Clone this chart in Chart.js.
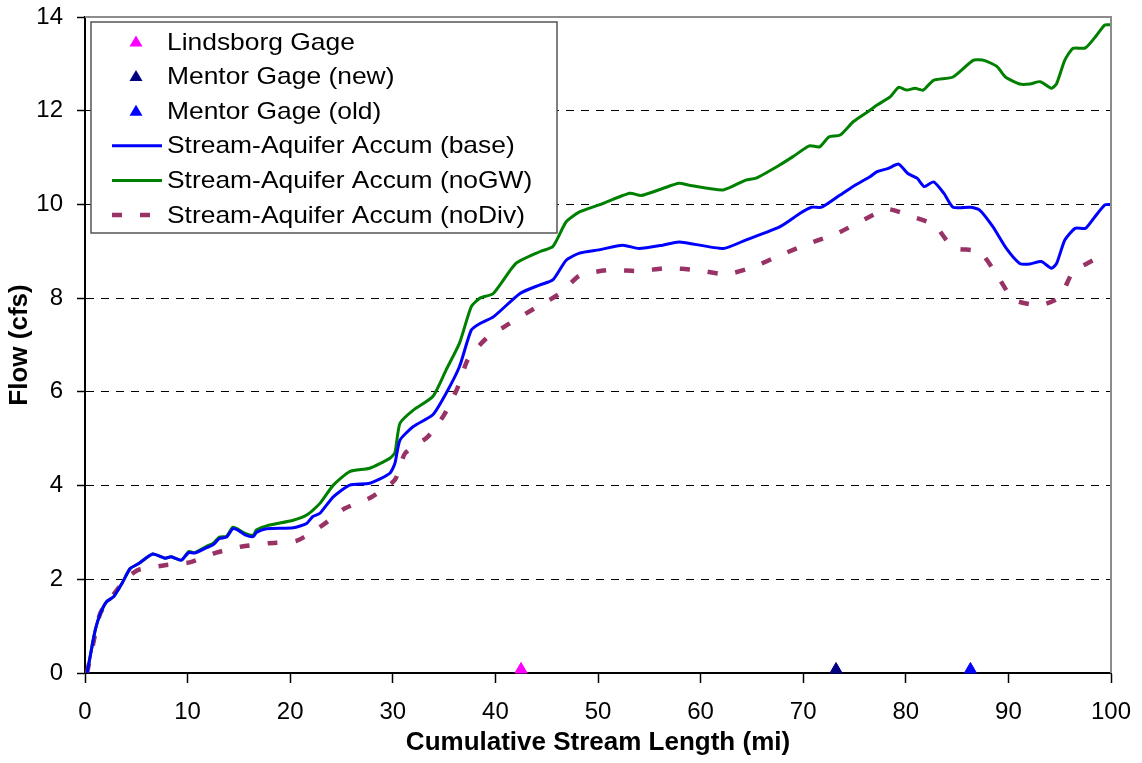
<!DOCTYPE html>
<html>
<head>
<meta charset="utf-8">
<script src="https://cdn.jsdelivr.net/npm/chart.js@4/dist/chart.umd.min.js"></script>
<style>
html,body{margin:0;padding:0;background:#fff;}
canvas{display:block;}
</style>
</head>
<body>
<canvas id="c" width="1142" height="763"></canvas>
<script>
// ---- data ----
const seriesLabels = ["Lindsborg Gage","Mentor Gage (new)","Mentor Gage (old)",
  "Stream-Aquifer Accum (base)","Stream-Aquifer Accum (noGW)","Stream-Aquifer Accum (noDiv)"];
const xTitle = "Cumulative Stream Length (mi)";
const yTitle = "Flow (cfs)";

const lindsborgX = [42.5];
const mentorNewX = [73.2];
const mentorOldX = [86.3];
const gageY = [0.075];

const baseX = [0.2,0.5,1,1.5,2.1,2.8,3.6,4.4,5.2,6.6,7.8,8.4,9.4,10.1,10.7,11.9,12.5,13.1,13.8,14.4,14.9,15.6,16.4,16.7,17.7,20.3,21.6,22.2,22.9,24.2,25.8,27.75,29.7,30.2,30.7,32,33.9,35.2,36.5,37.65,38.5,39.8,42.4,44.3,45.6,46.9,48.2,50.1,52.4,54,56.3,57.9,62.2,64.4,67.7,69.7,70.8,71.8,73.6,74.9,76.5,77.2,78.3,79.3,80.2,81.1,81.8,82.7,83.7,84.6,86.3,87.2,88.5,89.8,91.1,92.1,93.2,94.2,94.7,95.5,96.5,97.5,98.3,99.4,100];
const baseY = [0,0.35,0.92,1.27,1.52,1.63,1.91,2.23,2.33,2.54,2.45,2.48,2.41,2.57,2.56,2.68,2.74,2.87,2.9,3.08,3.05,2.95,2.91,3.0,3.08,3.1,3.19,3.34,3.41,3.76,4.01,4.05,4.26,4.47,4.97,5.26,5.51,5.97,6.54,7.32,7.46,7.6,8.1,8.28,8.39,8.81,8.96,9.03,9.13,9.06,9.13,9.2,9.06,9.24,9.52,9.81,9.94,9.94,10.2,10.39,10.59,10.7,10.77,10.86,10.66,10.56,10.38,10.48,10.24,9.94,9.94,9.88,9.52,9.06,8.74,8.73,8.78,8.64,8.74,9.24,9.49,9.49,9.7,9.99,10.0];

const noGWX = [0.2,0.5,1,1.5,2.1,2.8,3.6,4.4,5.2,6.6,7.8,8.4,9.4,10.1,10.7,11.9,12.5,13.1,13.8,14.4,14.9,15.6,16.4,16.7,17.7,20.3,21.6,22.9,24.2,25.8,27.75,29.7,30.2,30.7,32,33.9,35.2,36.5,37.65,38.5,39.8,42,44.3,45.6,46.9,48.2,50.1,53.1,54.2,56.3,57.9,58.9,62.2,64.4,65.4,67.7,69,70.6,71.6,72.5,73.6,74.9,76.5,77.2,78.5,79.3,80.1,80.9,81.7,82.7,84.6,86.6,87.7,88.9,89.7,91.1,92.1,93.1,94.2,94.7,95.5,96.3,97.5,98.6,99.4,100];
const noGWY = [0,0.35,0.92,1.27,1.52,1.63,1.91,2.23,2.33,2.54,2.45,2.48,2.41,2.59,2.57,2.71,2.77,2.9,2.92,3.11,3.07,2.98,2.94,3.05,3.14,3.26,3.37,3.62,4.01,4.3,4.37,4.58,4.7,5.33,5.61,5.9,6.47,7.04,7.82,8.0,8.1,8.74,8.99,9.1,9.63,9.84,9.99,10.24,10.19,10.34,10.45,10.41,10.31,10.52,10.56,10.84,11.02,11.25,11.23,11.44,11.48,11.77,12.01,12.12,12.3,12.5,12.44,12.48,12.44,12.65,12.72,13.08,13.07,12.94,12.72,12.57,12.57,12.62,12.48,12.58,13.08,13.33,13.34,13.61,13.83,13.83];

const noDivX = [0.2,0.8,1.5,3.1,4.2,5.2,7.8,10.2,12.8,15.3,17.9,20.6,23.2,25.3,27.9,30.2,31.2,33.4,35,36.3,37.3,39.1,41.4,43.8,46.3,48.2,51.1,54,56.8,59.6,62.5,65.2,67.8,70.6,73.2,75.7,78.2,80.6,82.8,84.6,87.2,88.9,90.5,93.1,95,96.3,98.6,99.4];
const noDivY = [0,0.63,1.28,1.77,2.05,2.2,2.3,2.36,2.57,2.7,2.77,2.82,3.16,3.51,3.75,4.12,4.69,5.04,5.51,6.08,6.68,7.14,7.46,7.78,8.1,8.48,8.6,8.58,8.64,8.6,8.51,8.67,8.92,9.17,9.37,9.65,9.9,9.74,9.56,9.08,8.99,8.49,7.97,7.85,8.02,8.56,8.85,9.0];

const xMin = 0, xMax = 100, xStep = 10;
const yMin = 0, yMax = 14, yStep = 2;

// ---- build ----
const pts = (xs, ys) => xs.map((x, i) => ({x: x, y: ys[i]}));
const FONT = "'Liberation Sans', Arial, sans-serif";
const colors = ['#FF00FF','#000080','#0000FF','#0000FF','#008000','#993366'];

const datasets = [
  {label: seriesLabels[3], data: pts(baseX, baseY), borderColor: colors[3], borderWidth: 3, pointRadius: 0, tension: 0.2, fill: false},
  {label: seriesLabels[4], data: pts(noGWX, noGWY), borderColor: colors[4], borderWidth: 3, pointRadius: 0, tension: 0.2, fill: false},
  {label: seriesLabels[5], data: pts(noDivX, noDivY), borderColor: colors[5], borderWidth: 4.5, borderDash: [10, 18], borderCapStyle: 'butt', pointRadius: 0, tension: 0.2, fill: false},
  {label: seriesLabels[0], data: pts(lindsborgX, gageY), showLine: false, pointStyle: 'triangle', pointRadius: 7, backgroundColor: colors[0], borderColor: colors[0], borderWidth: 1, clip: false},
  {label: seriesLabels[1], data: pts(mentorNewX, gageY), showLine: false, pointStyle: 'triangle', pointRadius: 7, backgroundColor: colors[1], borderColor: colors[1], borderWidth: 1, clip: false},
  {label: seriesLabels[2], data: pts(mentorOldX, gageY), showLine: false, pointStyle: 'triangle', pointRadius: 7, backgroundColor: colors[2], borderColor: colors[2], borderWidth: 1, clip: false}
];

const framePlugin = {
  id: 'frame',
  afterDatasetsDraw(chart) {
    const {ctx, chartArea: a} = chart;
    ctx.save();
    ctx.strokeStyle = '#8c8c8c';
    ctx.lineWidth = 2;
    ctx.beginPath();
    ctx.moveTo(a.left, a.top);
    ctx.lineTo(a.right, a.top);
    ctx.lineTo(a.right, a.bottom);
    ctx.stroke();
    ctx.restore();
  }
};

const legendPlugin = {
  id: 'boxLegend',
  afterDraw(chart) {
    const ctx = chart.ctx;
    const bx = 91, by = 22, bw = 466, bh = 211;
    ctx.save();
    ctx.fillStyle = '#fff';
    ctx.fillRect(bx, by, bw, bh);
    ctx.strokeStyle = '#555';
    ctx.lineWidth = 1.5;
    ctx.strokeRect(bx, by, bw, bh);
    const order = [3, 4, 5, 0, 1, 2]; // dataset index for each legend row
    const rowY0 = 42, rowGap = 34.6;
    for (let i = 0; i < 6; i++) {
      const ds = chart.data.datasets[order[i]];
      const y = rowY0 + i * rowGap;
      if (ds.showLine === false) {
        ctx.fillStyle = ds.backgroundColor;
        ctx.beginPath();
        ctx.moveTo(136, y - 6.5);
        ctx.lineTo(142.5, y + 4.5);
        ctx.lineTo(129.5, y + 4.5);
        ctx.closePath();
        ctx.fill();
      } else {
        ctx.strokeStyle = ds.borderColor;
        ctx.lineWidth = ds.borderWidth;
        ctx.setLineDash(ds.borderDash || []);
        ctx.lineCap = 'butt';
        ctx.beginPath();
        ctx.moveTo(112, y);
        ctx.lineTo(162, y);
        ctx.stroke();
        ctx.setLineDash([]);
      }
      ctx.fillStyle = '#000';
      ctx.font = '24px ' + FONT;
      ctx.textBaseline = 'middle';
      ctx.textAlign = 'left';
      ctx.save();
      ctx.translate(167, y + 1);
      ctx.scale(1.1, 1);
      ctx.fillText(ds.label, 0, 0);
      ctx.restore();
    }
    ctx.restore();
  }
};

const zeroPad = s => { s.paddingTop = 0; s.paddingBottom = 0; s.paddingLeft = 0; s.paddingRight = 0; };

new Chart(document.getElementById('c'), {
  type: 'line',
  data: {datasets: datasets},
  options: {
    responsive: false,
    animation: false,
    events: [],
    layout: {padding: {left: 0, right: 31, top: 17, bottom: 0}},
    plugins: {legend: {display: false}, tooltip: {enabled: false}},
    scales: {
      x: {
        type: 'linear', min: xMin, max: xMax,
        ticks: {stepSize: xStep, color: '#000', font: {family: FONT, size: 24}, padding: 15, maxRotation: 0, autoSkip: false},
        grid: {display: true, drawOnChartArea: false, tickLength: 10, tickColor: '#000', tickWidth: 1.5},
        border: {display: true, color: '#000', width: 2},
        title: {display: true, text: xTitle, color: '#000', font: {family: FONT, size: 26, weight: 'bold'}, padding: {top: 0, bottom: 5}},
        afterFit: s => { s.height = 90; zeroPad(s); }
      },
      y: {
        type: 'linear', min: yMin, max: yMax,
        ticks: {stepSize: yStep, color: '#000', font: {family: FONT, size: 24}, padding: 14},
        grid: {
          display: true,
          color: c => (c.tick && (c.tick.value === yMin || c.tick.value === yMax)) ? 'rgba(0,0,0,0)' : '#000',
          lineWidth: 1, tickLength: 8, tickColor: '#000', tickWidth: 1.5, tickBorderDash: []
        },
        border: {display: true, color: '#000', width: 2, dash: [8, 7]},
        title: {display: true, text: yTitle, color: '#000', font: {family: FONT, size: 26, weight: 'bold'}, padding: {top: 4, bottom: 0}},
        afterFit: s => { s.width = 85; zeroPad(s); }
      }
    }
  },
  plugins: [framePlugin, legendPlugin]
});
</script>
</body>
</html>
